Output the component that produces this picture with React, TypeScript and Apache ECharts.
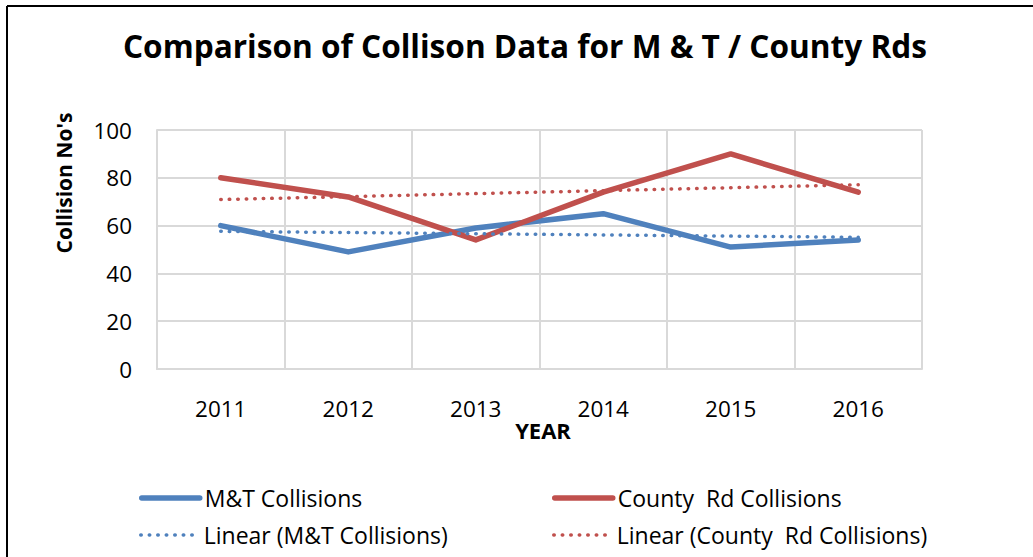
import React, { useEffect, useRef } from "react";
import * as echarts from "echarts";

const years = ["2011", "2012", "2013", "2014", "2015", "2016"];
const mtCollisions = [60, 49, 59, 65, 51, 54];
const countyCollisions = [80, 72, 54, 74, 90, 74];
// trend lines: values at 2011 and 2016
const mtTrend = [57.6, null, null, null, null, 55.1];
const countyTrend = [70.9, null, null, null, null, 77.1];
const yTicks = [0, 20, 40, 60, 80, 100];

const BLUE = "#4F81BD";
const RED = "#C0504D";
const FONT = "'Open Sans', Lato, sans-serif";
const DOTS = [0.5, 8];

export default function App() {
  const ref = useRef<HTMLDivElement>(null);
  useEffect(() => {
    if (!ref.current) return;
    const chart = echarts.init(ref.current, undefined, { renderer: "svg" });
    const legendItem = (name: string, left: number, top: number, color: string, dotted: boolean) => ({
      data: [name],
      left,
      top,
      orient: "horizontal",
      itemWidth: 58,
      itemHeight: 14,
      padding: 0,
      itemStyle: { opacity: 0 },
      lineStyle: dotted
        ? { color, width: 3.5, type: DOTS, cap: "round" }
        : { color, width: 5.5, type: "solid", cap: "round" },
      textStyle: { fontFamily: FONT, fontSize: 23, color: "#000", lineHeight: 28 },
      selectedMode: false,
    });
    chart.setOption({
      animation: false,
      textStyle: { fontFamily: FONT },
      grid: { left: 157, right: 111, top: 130, bottom: 188 },
      legend: [
        legendItem("M&T Collisions", 139, 484, BLUE, false),
        legendItem("County  Rd Collisions", 552, 484, RED, false),
        legendItem("Linear (M&T Collisions)", 139, 521, BLUE, true),
        legendItem("Linear (County  Rd Collisions)", 552, 521, RED, true),
      ],
      xAxis: {
        type: "category",
        data: years,
        boundaryGap: true,
        axisLine: { show: true, lineStyle: { color: "#D9D9D9", width: 2 } },
        axisTick: { show: false },
        axisLabel: { color: "#000", fontSize: 22.5, margin: 28, fontFamily: FONT },
        splitLine: { show: true, lineStyle: { color: "#D9D9D9", width: 2 } },
      },
      yAxis: {
        type: "value",
        min: yTicks[0],
        max: yTicks[yTicks.length - 1],
        interval: 20,
        axisLine: { show: true, lineStyle: { color: "#D9D9D9", width: 2 } },
        axisTick: { show: false },
        axisLabel: { color: "#000", fontSize: 22.5, margin: 25, fontFamily: FONT },
        splitLine: { show: true, lineStyle: { color: "#D9D9D9", width: 2 } },
      },
      graphic: [
        {
          type: "line",
          shape: { x1: 7, y1: 6, x2: 1033, y2: 6 },
          style: { stroke: "#000", lineWidth: 2 },
        },
        {
          type: "line",
          shape: { x1: 7, y1: 6, x2: 7, y2: 557 },
          style: { stroke: "#000", lineWidth: 2 },
        },
        {
          type: "text",
          x: 525,
          y: 45,
          style: {
            text: "Comparison of Collison Data for M & T / County Rds",
            fontFamily: FONT,
            fontWeight: "bold",
            fontSize: 31.6,
            fill: "#000",
            align: "center",
            verticalAlign: "middle",
          },
        },
        {
          type: "text",
          x: 64,
          y: 183,
          rotation: Math.PI / 2,
          style: {
            text: "Collision No's",
            fontFamily: FONT,
            fontWeight: "bold",
            fontSize: 21,
            fill: "#000",
            align: "center",
            verticalAlign: "middle",
          },
        },
        {
          type: "text",
          x: 543,
          y: 430,
          style: {
            text: "YEAR",
            fontFamily: FONT,
            fontWeight: "bold",
            fontSize: 22,
            fill: "#000",
            align: "center",
            verticalAlign: "middle",
          },
        },
      ],
      series: [
        {
          name: "M&T Collisions",
          type: "line",
          data: mtCollisions,
          symbol: "none",
          lineStyle: { color: BLUE, width: 5.5, cap: "round", join: "round" },
          itemStyle: { color: BLUE },
        },
        {
          name: "County  Rd Collisions",
          type: "line",
          data: countyCollisions,
          symbol: "none",
          lineStyle: { color: RED, width: 5.5, cap: "round", join: "round" },
          itemStyle: { color: RED },
        },
        {
          name: "Linear (M&T Collisions)",
          type: "line",
          data: mtTrend,
          connectNulls: true,
          symbol: "none",
          lineStyle: { color: BLUE, width: 3.5, type: DOTS, cap: "round" },
          itemStyle: { color: BLUE },
        },
        {
          name: "Linear (County  Rd Collisions)",
          type: "line",
          data: countyTrend,
          connectNulls: true,
          symbol: "none",
          lineStyle: { color: RED, width: 3.5, type: DOTS, cap: "round" },
          itemStyle: { color: RED },
        },
      ],
    });
    return () => chart.dispose();
  }, []);
  return (
    <div
      ref={ref}
      style={{ position: "absolute", left: 0, top: 0, width: 1033, height: 557, background: "#fff" }}
    />
  );
}
